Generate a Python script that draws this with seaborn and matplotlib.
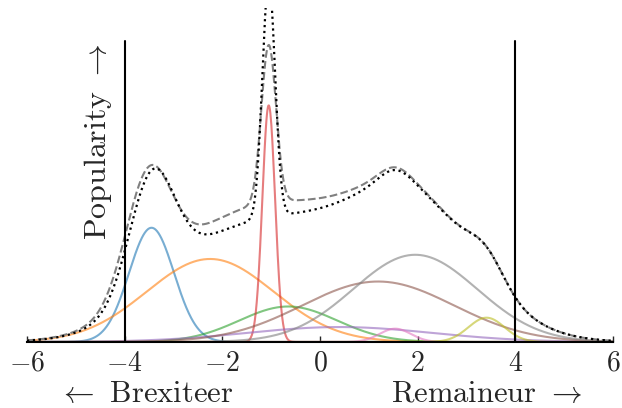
import numpy as np
import pandas as pd
import seaborn as sns
import matplotlib
matplotlib.use("Agg")
import matplotlib.pyplot as plt

# mixture components (tab10 order)
comp_means = [-3.45, -2.25, -0.65, -1.05, 0.40, 1.19, 1.54, 1.95, 3.41]
comp_sds = [0.46, 1.30, 1.00, 0.13, 1.90, 1.55, 0.32, 1.27, 0.37]
comp_weights = [0.111, 0.228, 0.075, 0.065, 0.060, 0.198, 0.009, 0.234, 0.019]
comp_colors = ["tab:blue", "tab:orange", "tab:green", "tab:red", "tab:purple",
               "tab:brown", "tab:pink", "tab:gray", "tab:olive"]

# smoothed density (dashed grey) - same parts, wider spike, plus broad left bump
smooth_means = [-3.52, -2.25, -0.65, -1.05, 0.40, 1.19, 1.54, 1.95, 3.41, -1.4]
smooth_sds = [0.46, 1.30, 1.00, 0.15, 1.90, 1.55, 0.32, 1.27, 0.37, 1.60]
smooth_weights = [0.111, 0.228, 0.075, 0.050, 0.060, 0.198, 0.009, 0.234, 0.019, 0.050]

xticks = [-6, -4, -2, 0, 2, 4, 6]
cutoffs = [-4, 4]


def gauss(x, mu, sd, w):
    return w * np.exp(-0.5 * ((x - mu) / sd) ** 2) / (sd * np.sqrt(2 * np.pi))


x = np.linspace(-6, 6, 1200)

sns.set_style("ticks")
plt.rcParams["font.family"] = ["cmr10"]
plt.rcParams["mathtext.fontset"] = "cm"
plt.rcParams["axes.formatter.use_mathtext"] = True

fig = plt.figure(figsize=(6.22, 4.08), dpi=100)
ax = fig.add_axes([0.0434, 0.1618, 0.9421, 0.8186])

total = np.zeros_like(x)
for mu, sd, w, c in zip(comp_means, comp_sds, comp_weights, comp_colors):
    y = gauss(x, mu, sd, w)
    total += y
    sns.lineplot(x=x, y=y, color=c, alpha=0.6, lw=1.5, ax=ax)

smooth = np.zeros_like(x)
for mu, sd, w in zip(smooth_means, smooth_sds, smooth_weights):
    smooth += gauss(x, mu, sd, w)

sns.lineplot(x=x, y=smooth, color="grey", ls="--", lw=1.5, ax=ax)
sns.lineplot(x=x, y=total, color="black", ls=":", lw=1.6, ax=ax)

for c in cutoffs:
    ax.axvline(c, ymax=0.9, color="black", lw=1.5)

ax.set_xlim(-6, 6)
ax.set_ylim(0, 0.2815)
ax.set_xticks(xticks)
ax.set_yticks([])
ax.tick_params(axis="x", direction="in", length=4, width=1, labelsize=20, pad=6)
for s in ["left", "top", "right"]:
    ax.spines[s].set_visible(False)
ax.spines["bottom"].set_linewidth(1.5)
ax.spines["bottom"].set_color("black")
ax.set_xlabel("")
ax.set_ylabel("")

ax.text(0.121, 0.60, r"Popularity $\rightarrow$", rotation=90, fontsize=23,
        ha="center", va="center", transform=ax.transAxes)
ax.text(0.053, -0.18, r"$\leftarrow$ Brexiteer", fontsize=22,
        ha="left", va="baseline", transform=ax.transAxes)
ax.text(0.947, -0.18, r"Remaineur $\rightarrow$", fontsize=22,
        ha="right", va="baseline", transform=ax.transAxes)

fig.savefig("out.png", dpi=100)
